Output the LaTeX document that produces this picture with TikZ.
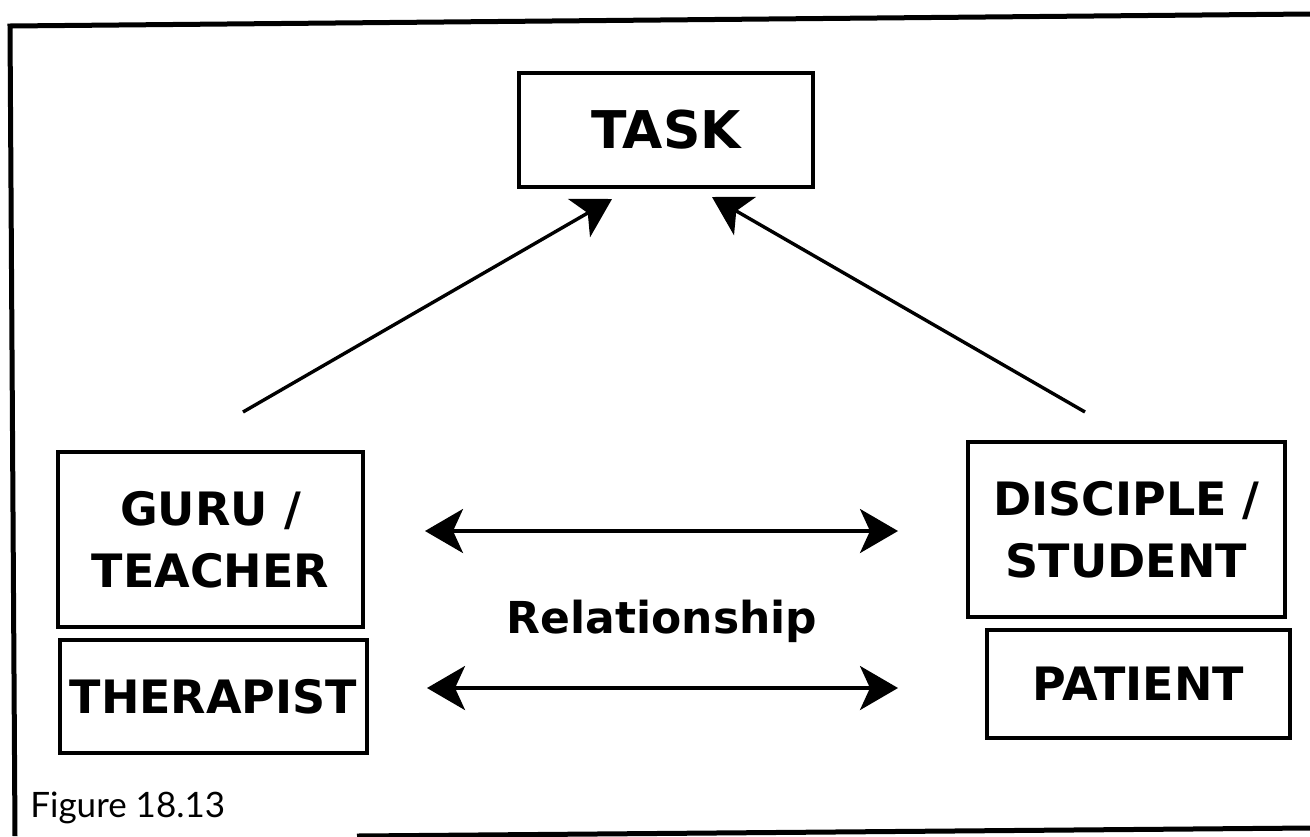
\documentclass[tikz,border=0pt]{standalone}
\usepackage{fontspec}
\setmainfont{DejaVu Sans}
\newfontfamily\captionfont{Lato}
\usetikzlibrary{arrows.meta}
\tikzset{%
  box/.style={draw,line width=2pt,inner sep=0pt,align=center,
    font=\bfseries\fontsize{23}{31}\selectfont},
  head/.tip={Stealth[length=19pt,width=22pt,inset=5pt]},
  dart/.style={line width=1.7pt,-head},
  twoway/.style={line width=1.8pt,head-head},
}
\begin{document}
\begin{tikzpicture}[x=0.5pt,y=-0.5pt]
  \useasboundingbox (0,0) rectangle (1310,836);

  % frame, cut off on the right
  \draw [line width=2.5pt] (15,836) -- (10,26) -- (1310,14);
  \draw [line width=2.5pt] (357,836) -- (1310,828);

  % boxes
  \node [box,minimum width=147pt,minimum height=57pt,
         font=\bfseries\fontsize{26}{30}\selectfont] (task) at (666,130) {TASK};
  \node [box,minimum width=152.5pt,minimum height=87.5pt] (guru) at (210.5,539.5) {GURU /\\TEACHER};
  \node [box,minimum width=153.5pt,minimum height=56.5pt] (therapist) at (213.5,696.5) {THERAPIST};
  \node [box,minimum width=158.5pt,minimum height=87.5pt] (disciple) at (1126.5,529.5) {DISCIPLE /\\STUDENT};
  \node [box,minimum width=151.5pt,minimum height=54pt] (patient) at (1138.5,684) {PATIENT};

  \node [anchor=base,font=\bfseries\fontsize{22}{26}\selectfont] (rel) at (662,633) {Relationship};
  \node [anchor=base west,inner sep=0pt,
         font=\captionfont\fontsize{17.5}{21}\selectfont] (caption) at (30,817) {Figure 18.13};

  % arrows up to the task
  \coordinate (gurutail) at (243,412);
  \coordinate (discipletail) at (1085,412);
  \draw [dart] (gurutail) -- ([xshift=-27pt,yshift=-5pt]task.south);
  \draw [dart] (discipletail) -- ([xshift=23pt,yshift=-4pt]task.south);

  % the relationship, both ways
  \draw [twoway,shorten <=30pt,shorten >=34pt] (guru.east |- 0,531) -- (disciple.west |- 0,531);
  \draw [twoway,shorten <=29pt,shorten >=43.5pt] (therapist.east |- 0,688) -- (patient.west |- 0,688);
\end{tikzpicture}
\end{document}
